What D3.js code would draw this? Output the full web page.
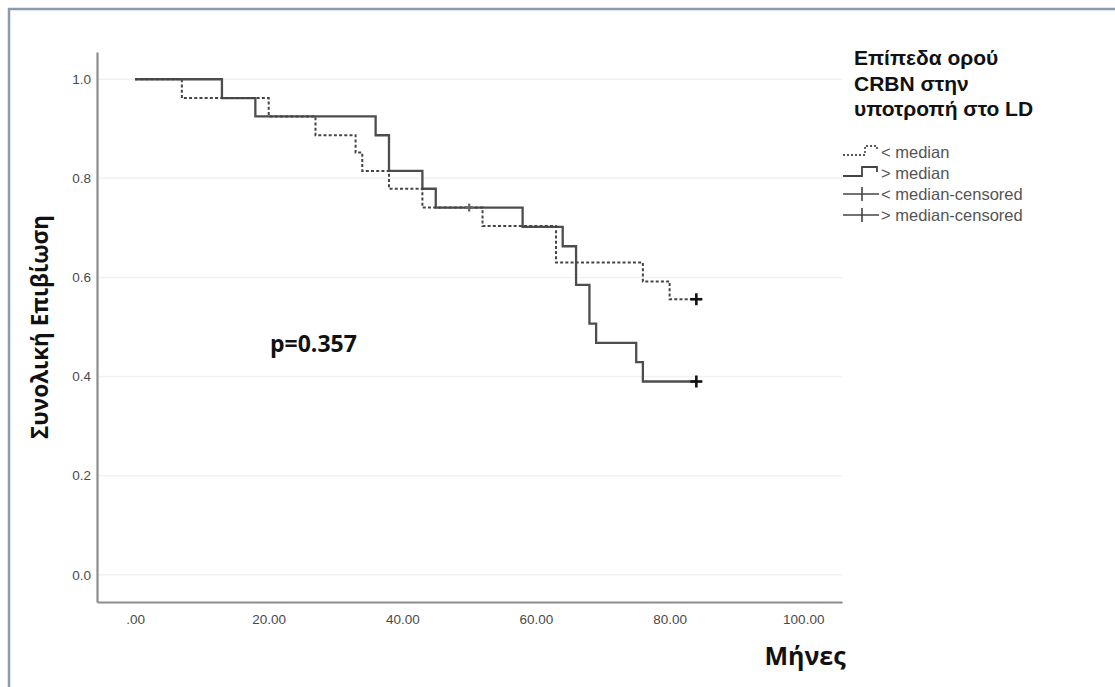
<!DOCTYPE html>
<html>
<head>
<meta charset="utf-8">
<script src="https://cdn.jsdelivr.net/npm/d3@7"></script>
<style>
  html, body { margin: 0; padding: 0; background: #fff; }
  svg { display: block; }
</style>
</head>
<body>
<script>
// Kaplan–Meier estimates by serum CRBN level at relapse
const seriesNames = ["< median", "> median"];
const censoredNames = ["< median-censored", "> median-censored"];

const timesLow = [0, 7, 20, 27, 33, 34, 38, 43, 52, 63, 76, 80, 84];
const survLow  = [1.0, 0.962, 0.925, 0.887, 0.852, 0.815, 0.779, 0.741, 0.704, 0.630, 0.592, 0.556, 0.556];

const timesHigh = [0, 13, 18, 36, 38, 43, 45, 58, 64, 66, 68, 69, 75, 76, 84];
const survHigh  = [1.0, 0.962, 0.925, 0.887, 0.815, 0.779, 0.741, 0.702, 0.663, 0.585, 0.507, 0.468, 0.429, 0.390, 0.390];

const censorTimesLow = [84];
const censorSurvLow  = [0.556];
const censorTimesHigh = [50, 84];
const censorSurvHigh  = [0.741, 0.390];

const xTicks = [0, 20, 40, 60, 80, 100];
const yTicks = [0, 0.2, 0.4, 0.6, 0.8, 1.0];
const xDomain = [-5.7, 105.8];
const yDomain = [-0.055, 1.055];

const pLabel = "p=0.357";
const xTitle = "Μήνες";
const yTitle = "Συνολική Επιβίωση";
const legendTitle = ["Επίπεδα ορού", "CRBN στην", "υποτροπή στο LD"];

const W = 1115, H = 687;
const svg = d3.select("body").append("svg").attr("width", W).attr("height", H);

// outer frame (top and left edges)
svg.append("path")
  .attr("d", `M9,${H} L9,9 L${W},9`)
  .attr("fill", "none").attr("stroke", "#8a9ab5").attr("stroke-width", 2.5);

const x = d3.scaleLinear().domain(xDomain).range([97, 842]);
const y = d3.scaleLinear().domain(yDomain).range([602, 52]);

// horizontal gridlines
svg.append("g").selectAll("line").data(yTicks).join("line")
  .attr("x1", x(xDomain[0])).attr("x2", x(xDomain[1]))
  .attr("y1", d => y(d)).attr("y2", d => y(d))
  .attr("stroke", "#f1f1f1").attr("stroke-width", 1.5);

// axes
const fmtX = d => d3.format(".2f")(d).replace(/^0\./, ".");
const xAxis = svg.append("g").attr("transform", `translate(0,${y(yDomain[0])})`)
  .call(d3.axisBottom(x).tickValues(xTicks).tickFormat(fmtX).tickSize(0).tickPadding(12));
const yAxis = svg.append("g").attr("transform", `translate(${x(xDomain[0])},0)`)
  .call(d3.axisLeft(y).tickValues(yTicks).tickFormat(d3.format(".1f")).tickSize(0).tickPadding(6));
[xAxis, yAxis].forEach(g => {
  g.select(".domain").attr("stroke", "#8c8c8c").attr("stroke-width", 2.2);
  g.selectAll("text").attr("font-family", "Liberation Sans, Arial, sans-serif")
    .attr("font-size", 13.5).attr("fill", "#4a4a4a");
});

// survival curves
const line = d3.line().x(d => x(d[0])).y(d => y(d[1])).curve(d3.curveStepAfter);
svg.append("path").datum(d3.zip(timesHigh, survHigh))
  .attr("d", line).attr("fill", "none")
  .attr("stroke", "#4d4d4d").attr("stroke-width", 2.3);
svg.append("path").datum(d3.zip(timesLow, survLow))
  .attr("d", line).attr("fill", "none")
  .attr("stroke", "#444").attr("stroke-width", 2).attr("stroke-dasharray", "3,2.2");

// censoring marks
const plus = (g, px, py, s, c, w) => {
  g.append("line").attr("x1", px - s).attr("x2", px + s).attr("y1", py).attr("y2", py)
    .attr("stroke", c).attr("stroke-width", w);
  g.append("line").attr("x1", px).attr("x2", px).attr("y1", py - s).attr("y2", py + s)
    .attr("stroke", c).attr("stroke-width", w);
};
const cg = svg.append("g");
d3.zip(censorTimesLow, censorSurvLow).forEach(([t, s]) => plus(cg, x(t), y(s), 6, "#111", 2.6));
d3.zip(censorTimesHigh, censorSurvHigh).forEach(([t, s], i) => {
  const last = i === censorTimesHigh.length - 1;
  plus(cg, x(t), y(s), last ? 6 : 4, last ? "#111" : "#666", last ? 2.6 : 2.2);
});

// p value
svg.append("text").attr("x", 270).attr("y", 352)
  .attr("font-family", "Open Sans, Noto Sans, sans-serif").attr("font-weight", "bold")
  .attr("font-size", 23).attr("fill", "#111").text(pLabel);

// axis titles
svg.append("text").attr("x", 805).attr("y", 665).attr("text-anchor", "middle")
  .attr("font-family", "Open Sans, Noto Sans, sans-serif").attr("font-weight", "bold")
  .attr("font-size", 25).attr("fill", "#111").text(xTitle);
svg.append("text").attr("transform", "translate(48,327) rotate(-90)").attr("text-anchor", "middle")
  .attr("font-family", "Open Sans, Noto Sans, sans-serif").attr("font-weight", "bold")
  .attr("font-size", 22.5).attr("fill", "#111").text(yTitle);

// legend
const lg = svg.append("g");
lg.selectAll("text.title").data(legendTitle).join("text").attr("class", "title")
  .attr("x", 854).attr("y", (d, i) => 65 + i * 25.5)
  .attr("font-family", "Liberation Sans, Arial, sans-serif").attr("font-weight", "bold")
  .attr("font-size", 21).attr("fill", "#111").text(d => d);

const itemY = [152, 173, 194, 215];
const labels = seriesNames.concat(censoredNames);
lg.selectAll("text.item").data(labels).join("text").attr("class", "item")
  .attr("x", 881).attr("y", (d, i) => itemY[i] + 5.5)
  .attr("font-family", "Liberation Sans, Arial, sans-serif")
  .attr("font-size", 16.5).attr("fill", "#555").text(d => d);

const stepSym = (cy, a, b) => `M843,${cy + 3} L${a},${cy + 3} L${a},${cy - 6} L${b},${cy - 6} L${b},${cy - 1}`;
lg.append("path").attr("d", stepSym(itemY[0], 865, 877)).attr("fill", "none")
  .attr("stroke", "#555").attr("stroke-width", 1.8).attr("stroke-dasharray", "2,2");
lg.append("path").attr("d", stepSym(itemY[1], 862, 877)).attr("fill", "none")
  .attr("stroke", "#444").attr("stroke-width", 1.8);
[itemY[2], itemY[3]].forEach(cy => {
  lg.append("line").attr("x1", 843).attr("x2", 879).attr("y1", cy).attr("y2", cy)
    .attr("stroke", "#444").attr("stroke-width", 1.6);
  lg.append("line").attr("x1", 862).attr("x2", 862).attr("y1", cy - 7).attr("y2", cy + 7)
    .attr("stroke", "#444").attr("stroke-width", 1.6);
});
</script>
</body>
</html>
